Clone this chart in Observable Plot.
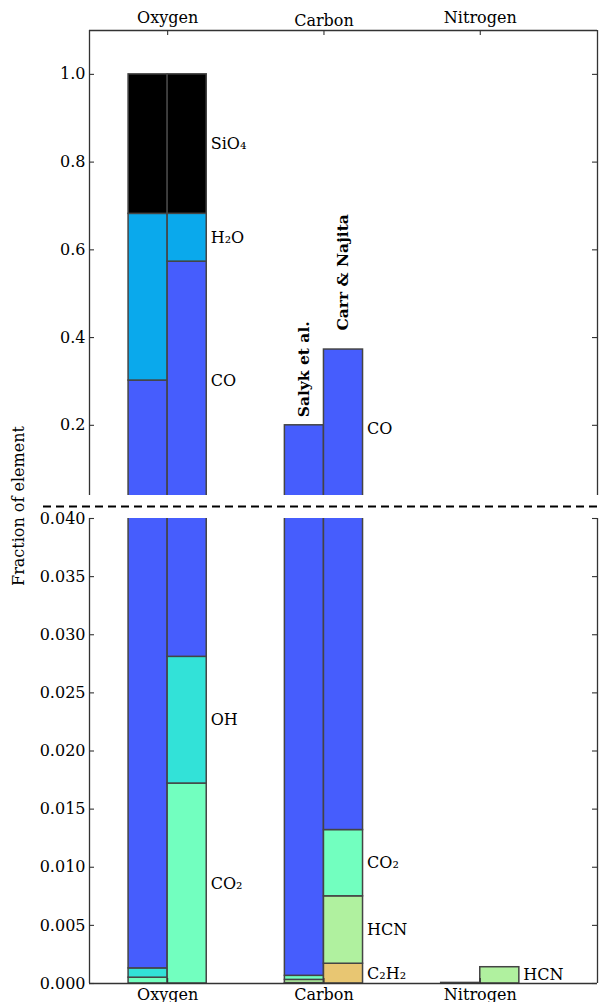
<!DOCTYPE html>
<html><head><meta charset="utf-8">
<script src="https://cdn.jsdelivr.net/npm/d3@7"></script>
<script src="https://cdn.jsdelivr.net/npm/@observablehq/plot@0.6"></script>
<style>
body{margin:0;background:#fff;}
#chart{position:relative;width:600px;height:1002px;overflow:hidden;font-family:"DejaVu Serif",serif;}
#topPanel,#bottomPanel{position:absolute;left:0;}
#topPanel{top:0;z-index:2;}
#bottomPanel{top:500px;z-index:1;}
#ylabel{position:absolute;left:18px;top:506px;transform:translate(-50%,-50%) rotate(-90deg);font-size:16px;white-space:nowrap;z-index:3;}
</style></head>
<body>
<div id="chart"><div id="topPanel"></div><div id="bottomPanel"></div><div id="ylabel">Fraction of element</div></div>
<script>
// ---- data ----
const elements = ["Oxygen", "Carbon", "Nitrogen"];
const sources = ["Salyk et al.", "Carr & Najita"];

const oxygenSpecies = ["CO2", "OH", "CO", "H2O", "SiO4"];
const oxygenSalyk   = [0.0005, 0.0008, 0.3007, 0.3800, 0.3180];
const oxygenCarr    = [0.0172, 0.0109, 0.5450, 0.1090, 0.3180];

const carbonSpecies = ["C2H2", "HCN", "CO2", "CO"];
const carbonSalyk   = [0.00003, 0.00028, 0.00035, 0.19934];
const carbonCarr    = [0.0017, 0.0058, 0.0057, 0.3595];

const nitrogenSpecies = ["HCN"];
const nitrogenSalyk   = [0.00005];
const nitrogenCarr    = [0.0014];

const speciesText = {CO2: "CO₂", OH: "OH", CO: "CO", H2O: "H₂O", SiO4: "SiO₄", HCN: "HCN", C2H2: "C₂H₂"};
const speciesColor = {SiO4: "#000000", H2O: "#0aa9ec", CO: "#465dfd", OH: "#32e2d8", CO2: "#72ffbf", HCN: "#b0f19f", C2H2: "#e8c672"};

const topTicks = [0.2, 0.4, 0.6, 0.8, 1.0];
const bottomTicks = [0, 0.005, 0.010, 0.015, 0.020, 0.025, 0.030, 0.035, 0.040];
const topDomain = [0.04, 1.1];
const bottomDomain = [0, 0.04];
const xDomain = [-0.5, 2.75];

// ---- build table ----
const groups = [
  {element: "Oxygen", species: oxygenSpecies, values: [oxygenSalyk, oxygenCarr]},
  {element: "Carbon", species: carbonSpecies, values: [carbonSalyk, carbonCarr]},
  {element: "Nitrogen", species: nitrogenSpecies, values: [nitrogenSalyk, nitrogenCarr]}
];
const barW = 0.25;
const segments = [], labels = [], tops = [];
groups.forEach((g, i) => {
  g.values.forEach((vals, j) => {
    let c = 0;
    const x1 = i - barW + barW * j, x2 = x1 + barW;
    vals.forEach((v, k) => {
      const s = {element: g.element, source: sources[j], species: g.species[k], x1, x2, y1: c, y2: c + v};
      segments.push(s);
      if (j === 1) labels.push({x: x2, y: (s.y1 + s.y2) / 2, text: speciesText[s.species]});
      c += v;
    });
    tops.push({element: g.element, source: sources[j], j, x: (x1 + x2) / 2, y: c});
  });
});
const elemTicks = elements.map((e, i) => ({x: i, text: e}));
const elemIdx = elements.map((e, i) => i);
const hasDesc = t => /[gjpqy]/.test(t);

const W = 600, ML = 89, MR = 3, FH = 465, TL = 5;
const FW = W - ML - MR;
const spine = {stroke: "#333", strokeWidth: 1.3};
const tickSt = {stroke: "#333", strokeWidth: 1.1};
const common = {
  width: W, marginLeft: ML, marginRight: MR,
  x: {type: "linear", domain: xDomain, axis: null},
  style: {fontFamily: "DejaVu Serif", fontSize: "16px", background: "transparent", color: "#000", overflow: "visible"}
};
const barMark = () => Plot.rect(segments, {x1: "x1", x2: "x2", y1: "y1", y2: "y2", fill: d => speciesColor[d.species], stroke: "#444", strokeWidth: 1.5, clip: true});
const yTicks = (ticks, fmt) => [
  Plot.axisY({ticks, tickFormat: fmt, tickSize: 0, tickPadding: 4, label: null}),
  Plot.tickY(ticks, {y: d => d, insetRight: FW - TL, ...tickSt}),
  Plot.tickY(ticks, {y: d => d, insetLeft: FW - TL, ...tickSt})
];

const topPlot = Plot.plot({
  ...common,
  height: 510, marginTop: 30, marginBottom: 15,
  y: {domain: topDomain, label: null, axis: null},
  marks: [
    barMark(),
    ...yTicks(topTicks, ".1f"),
    Plot.tickX(elemIdx, {x: d => d, insetBottom: FH - TL, ...tickSt}),
    Plot.ruleX([xDomain[0], xDomain[1]], spine),
    Plot.ruleY([topDomain[1]], spine),
    Plot.text(elemTicks.filter(d => hasDesc(d.text)), {x: "x", text: "text", frameAnchor: "top", dy: -19}),
    Plot.text(elemTicks.filter(d => !hasDesc(d.text)), {x: "x", text: "text", frameAnchor: "top", dy: -15.5}),
    Plot.text(labels.filter(d => d.y > topDomain[0]), {x: "x", y: "y", text: "text", textAnchor: "start", dx: 4}),
    Plot.text(tops.filter(d => d.element === "Carbon" && d.j === 0), {x: "x", y: "y", text: "source", rotate: -90, textAnchor: "start", dy: -8, fontWeight: "bold", fontSize: 15.5}),
    Plot.text(tops.filter(d => d.element === "Carbon" && d.j === 1), {x: "x", y: "y", text: "source", rotate: -90, textAnchor: "start", dy: -19, fontWeight: "bold", fontSize: 15.5}),
    Plot.ruleY([topDomain[0]], {dy: 11, insetLeft: -46, insetRight: -3, stroke: "#000", strokeWidth: 2, strokeDasharray: "8,5"})
  ]
});

const bottomPlot = Plot.plot({
  ...common,
  height: 502, marginTop: 18, marginBottom: 19,
  y: {domain: bottomDomain, label: null, axis: null},
  marks: [
    barMark(),
    ...yTicks(bottomTicks, ".3f"),
    Plot.tickX(elemIdx, {x: d => d, insetTop: FH - TL, ...tickSt}),
    Plot.ruleX([xDomain[0], xDomain[1]], spine),
    Plot.ruleY([bottomDomain[0]], spine),
    Plot.text(elemTicks, {x: "x", text: "text", frameAnchor: "bottom", dy: 16}),
    Plot.text(labels.filter(d => d.y <= topDomain[0]), {x: "x", y: "y", text: "text", textAnchor: "start", dx: 4})
  ]
});

document.getElementById("topPanel").appendChild(topPlot);
document.getElementById("bottomPanel").appendChild(bottomPlot);
</script>
</body></html>
